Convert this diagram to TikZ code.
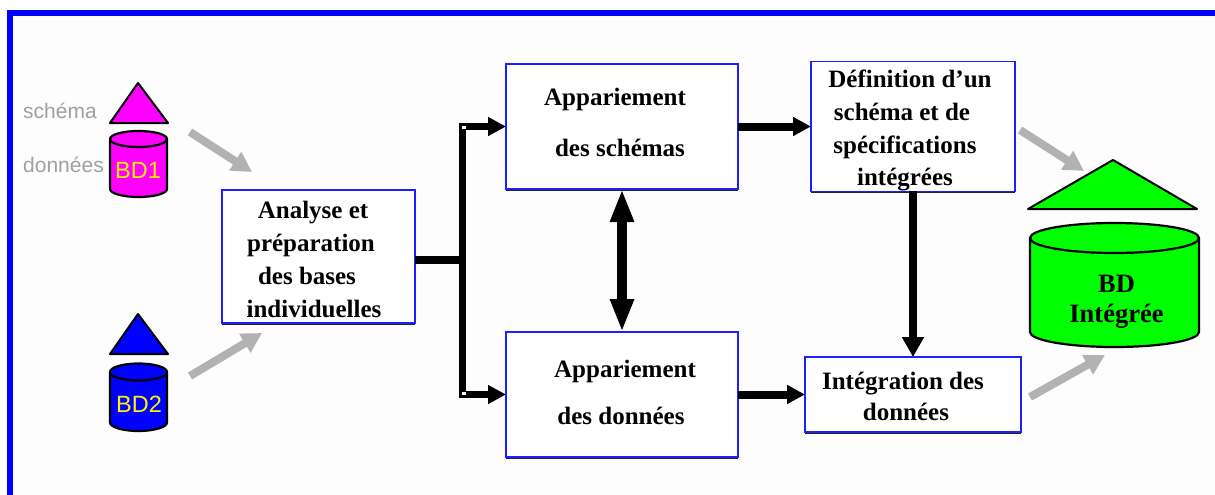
\documentclass[tikz,border=0pt]{standalone}
\usepackage{fontspec}
\setmainfont{Liberation Serif}
\newfontfamily\arialfont{Liberation Sans}
\usetikzlibrary{shadows,arrows.meta}
\definecolor{paper}{RGB}{253,253,253}
\definecolor{boxblue}{RGB}{30,30,255}
\definecolor{greyarrow}{RGB}{178,178,178}
\definecolor{greytext}{RGB}{160,160,160}
\definecolor{pinkbase}{RGB}{255,0,255}
\newcommand{\tl}[2]{\rule{0pt}{#1pt}#2}
\newcommand{\bl}[2]{#2\rule[-#1pt]{0pt}{#1pt}}
\newcommand{\sh}[2]{\hspace*{#1pt}#2}
\newcommand{\boxfont}[1]{\fontsize{25}{#1}\selectfont\bfseries}
\begin{document}
\begin{tikzpicture}[x=1pt,y=1pt]
    \tikzstyle{box}=[draw=boxblue,fill=white,rectangle,line width=1.2,inner sep=0,outer sep=0,align=center,
        drop shadow={shadow xshift=0pt,shadow yshift=-1.8pt,opacity=.85,fill=black}]
    \tikzstyle{note}=[draw=none,fill=none,inner sep=0]
    \tikzstyle{legend}=[note,anchor=base west,text=greytext,font=\arialfont\fontsize{21}{24}\selectfont]
    \tikzstyle{tri}=[draw=black,line width=2,line join=round]
    \tikzstyle{drum}=[draw=black,line width=2.2,line join=round]
    \tikzstyle{flow}=[draw=black,line width=8]
    \tikzstyle{feed}=[draw=greyarrow,line width=8,-{Triangle[length=20pt,width=21pt]}]
    \tikzstyle{spot}=[note,fill=white,rectangle,minimum width=4,minimum height=3]
    {
        \useasboundingbox (0,0) rectangle (1215,-495);
        \fill[paper] (13,-16) rectangle (1215,-495);
        \draw[blue,line width=6] (10,-495) -- (10,-13) -- (1215,-13);

        \node[box,minimum width=193,minimum height=133,font=\boxfont{32.7}] (analyse) at (318.5,-256.5)
            {\tl{29}{\sh{-11}{Analyse et}}\\\sh{-15}{préparation}\\\sh{-23}{des bases}\\\bl{6}{\sh{-9}{individuelles}}};
        \node[box,minimum width=232,minimum height=125,font=\boxfont{51}] (schemas) at (622,-126.5)
            {\tl{41}{\sh{-14}{Appariement}}\\\bl{33}{\sh{-4}{des schémas}}};
        \node[box,minimum width=232,minimum height=125,font=\boxfont{47}] (donnees) at (622,-394.5)
            {\tl{45}{\sh{6}{Appariement}}\\\bl{33}{\sh{-2}{des données}}};
        \node[box,minimum width=204,minimum height=129,font=\boxfont{32.7}] (definition) at (913,-126.5)
            {\tl{26}{\sh{-6}{Définition d’un}}\\\sh{-22}{schéma et de}\\\sh{-16}{spécifications}\\\bl{5}{\sh{-16}{intégrées}}};
        \node[box,minimum width=216,minimum height=75,font=\boxfont{31}] (integration) at (913,-394.5)
            {\tl{32}{\sh{-20}{Intégration des}}\\\bl{12}{\sh{-14}{données}}};

        \node[legend] (schema) at (23,-118) {schéma};
        \node[legend] (data) at (23,-172.7) {données};

        \draw[tri,fill=pinkbase] (138,-83) -- (110,-123) -- (168,-123) -- cycle;
        \draw[tri,fill=blue] (138,-314) -- (110,-354) -- (168,-354) -- cycle;
        \draw[tri,fill=green] (1113,-160) -- (1028,-209) -- (1197,-209) -- cycle;

        \foreach \cx/\ytop/\ybot/\rx/\ry/\col in {138.5/-139/-189/28.5/8/pinkbase,138.5/-372/-422.5/28.5/8.5/blue,1114.5/-238/-332/84.5/15/green} {
            \draw[drum,fill=\col] (\cx-\rx,\ytop) -- (\cx-\rx,\ybot)
                arc[start angle=180,end angle=360,x radius=\rx,y radius=\ry]
                -- (\cx+\rx,\ytop) arc[start angle=0,end angle=180,x radius=\rx,y radius=\ry] -- cycle;
            \draw[drum] (\cx-\rx,\ytop) arc[start angle=180,end angle=360,x radius=\rx,y radius=\ry];
        }

        \node[note,text=yellow,font=\arialfont\fontsize{23.5}{28}\selectfont] (bd1) at (138,-170) {BD1};
        \node[note,text=yellow,font=\arialfont\fontsize{23.5}{28}\selectfont] (bd2) at (139,-404) {BD2};
        \node[note,align=center,font=\fontsize{26.5}{30}\selectfont\bfseries] (bdi) at (1116.5,-302) {BD\\Intégrée};

        \coordinate (split) at (462.5,-260);
        \draw[flow] ([yshift=-3.5]analyse.east) -- (split);
        \draw[flow,line width=7.5,-{Triangle[length=18pt,width=18pt]}] (split) |- (schemas.west);
        \draw[flow,line width=7.5,-{Triangle[length=18pt,width=18pt]}] (split) |- (donnees.west);
        \draw[flow,-{Triangle[length=18pt,width=18pt]}] (schemas.east) -- (definition.west);
        \draw[flow,-{Triangle[length=18pt,width=18pt]}] (donnees.east) -- (integration.west);
        \draw[flow,-{Triangle[length=20pt,width=21pt]}] (definition.south) -- (integration.north);
        \draw[flow,line width=10.5,{Triangle[length=33pt,width=22pt]}-{Triangle[length=33pt,width=22pt]}] (schemas.south) -- (donnees.north);

        \node[spot] (spot1) at (464,-127) {};
        \node[spot] (spot2) at (464,-393) {};

        \coordinate (feed1) at (190,-132);
        \coordinate (into1) at (252,-172);
        \coordinate (feed2) at (190,-376);
        \coordinate (into2) at (262,-333);
        \coordinate (feed3) at (1020,-130);
        \coordinate (into3) at (1084,-171);
        \coordinate (feed4) at (1030,-397);
        \coordinate (into4) at (1105,-355);
        \foreach \number in {1,2,3,4} {
            \draw[feed] (feed\number) -- (into\number);
        }
    }
\end{tikzpicture}
\end{document}
